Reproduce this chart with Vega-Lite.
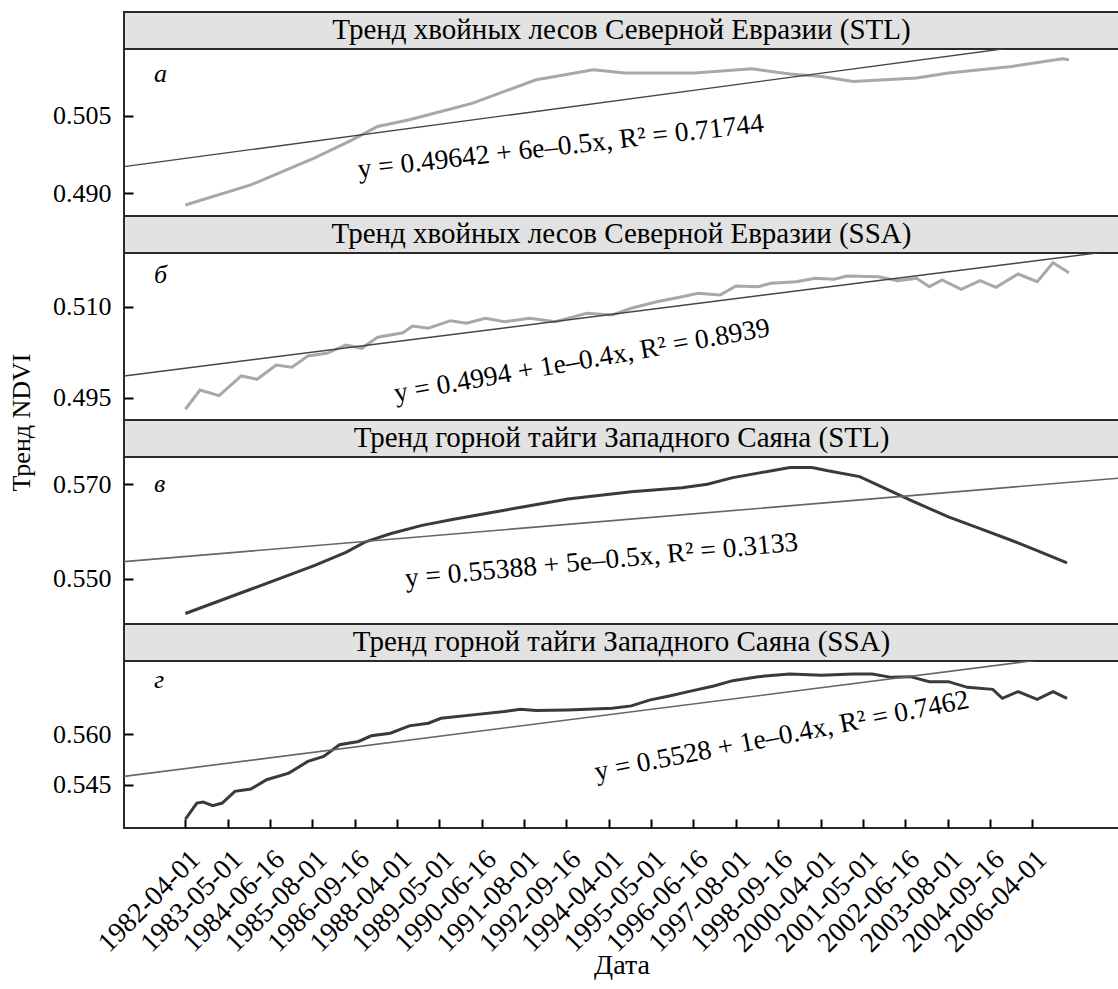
{
  "$schema": "https://vega.github.io/schema/vega-lite/v6.json",
  "padding": {"left": 7, "top": 11, "right": 0, "bottom": 5},
  "background": "white",
  "spacing": 0,
  "bounds": "flush",
  "resolve": {"scale": {"x": "independent", "y": "independent"}},
  "config": {
    "view": {"stroke": "#2a2a2a", "strokeWidth": 2},
    "axis": {
      "labelFont": "Liberation Serif", "labelFontSize": 26, "labelColor": "black",
      "titleFont": "Liberation Serif", "titleFontSize": 26, "titleColor": "black", "titleFontWeight": "normal",
      "tickColor": "black", "tickWidth": 2, "tickSize": -9, "domain": false, "grid": false
    },
    "axisY": {"labelPadding": 22},
    "axisX": {"labelPadding": 26, "labelFontSize": 28, "titleFontSize": 28},
    "text": {"font": "Liberation Serif", "color": "black"}
  },
  "datasets": {
    "p1": [{"t":0,"v":0.48778},{"t":1.544,"v":0.49164},{"t":3.042,"v":0.49678},{"t":3.94,"v":0.50032},{"t":4.54,"v":0.50288},{"t":5.289,"v":0.50417},{"t":6.037,"v":0.50577},{"t":6.786,"v":0.50739},{"t":7.535,"v":0.50963},{"t":8.284,"v":0.51188},{"t":8.734,"v":0.51252},{"t":9.633,"v":0.51381},{"t":10.381,"v":0.51317},{"t":12.03,"v":0.51317},{"t":13.378,"v":0.514},{"t":14.276,"v":0.51298},{"t":15.025,"v":0.51252},{"t":15.774,"v":0.51155},{"t":16.523,"v":0.51188},{"t":17.272,"v":0.51221},{"t":18.021,"v":0.51317},{"t":19.519,"v":0.51445},{"t":20.717,"v":0.51593},{"t":20.867,"v":0.51574}],
    "tr1": [{"t":-1.45,"v":0.49517},{"t":22.05,"v":0.52081}],
    "p2": [{"t":0,"v":0.49309},{"t":0.345,"v":0.49627},{"t":0.795,"v":0.49533},{"t":1.319,"v":0.49858},{"t":1.694,"v":0.49803},{"t":2.143,"v":0.50039},{"t":2.517,"v":0.50001},{"t":2.892,"v":0.50187},{"t":3.341,"v":0.50232},{"t":3.791,"v":0.50369},{"t":4.165,"v":0.50314},{"t":4.54,"v":0.50496},{"t":5.139,"v":0.50571},{"t":5.364,"v":0.50682},{"t":5.738,"v":0.50644},{"t":6.262,"v":0.50769},{"t":6.637,"v":0.50726},{"t":7.086,"v":0.50809},{"t":7.535,"v":0.50753},{"t":8.135,"v":0.50809},{"t":8.734,"v":0.50753},{"t":9.483,"v":0.50891},{"t":10.082,"v":0.50863},{"t":10.531,"v":0.50974},{"t":11.13,"v":0.51082},{"t":11.729,"v":0.51165},{"t":12.104,"v":0.51221},{"t":12.628,"v":0.51193},{"t":13.003,"v":0.51341},{"t":13.527,"v":0.5133},{"t":13.827,"v":0.51386},{"t":14.426,"v":0.51412},{"t":14.875,"v":0.51468},{"t":15.324,"v":0.51452},{"t":15.624,"v":0.51506},{"t":16.373,"v":0.51494},{"t":16.822,"v":0.51429},{"t":17.272,"v":0.51468},{"t":17.571,"v":0.5133},{"t":17.871,"v":0.5144},{"t":18.32,"v":0.51287},{"t":18.77,"v":0.51429},{"t":19.144,"v":0.5132},{"t":19.668,"v":0.51539},{"t":20.118,"v":0.51412},{"t":20.492,"v":0.51725},{"t":20.867,"v":0.5156}],
    "tr2": [{"t":-1.45,"v":0.49858},{"t":22.05,"v":0.51931}],
    "p3": [{"t":0,"v":0.54259},{"t":1.544,"v":0.54773},{"t":3.042,"v":0.55272},{"t":3.791,"v":0.55557},{"t":4.24,"v":0.55771},{"t":4.839,"v":0.55951},{"t":5.588,"v":0.56128},{"t":6.337,"v":0.56257},{"t":7.535,"v":0.5645},{"t":9.033,"v":0.56685},{"t":10.531,"v":0.56842},{"t":11.73,"v":0.56927},{"t":12.329,"v":0.57},{"t":12.928,"v":0.57141},{"t":13.527,"v":0.57236},{"t":14.276,"v":0.57355},{"t":14.8,"v":0.57355},{"t":15.175,"v":0.57285},{"t":15.924,"v":0.57163},{"t":16.523,"v":0.56914},{"t":17.122,"v":0.56664},{"t":18.021,"v":0.56306},{"t":18.77,"v":0.56058},{"t":19.519,"v":0.55807},{"t":20.118,"v":0.55593},{"t":20.822,"v":0.5533}],
    "tr3": [{"t":-1.45,"v":0.55358},{"t":22.05,"v":0.5713}],
    "p4": [{"t":0,"v":0.5348},{"t":0.271,"v":0.53954},{"t":0.42,"v":0.53984},{"t":0.645,"v":0.53877},{"t":0.87,"v":0.53954},{"t":1.169,"v":0.54301},{"t":1.544,"v":0.54369},{"t":1.918,"v":0.54648},{"t":2.443,"v":0.54844},{"t":2.892,"v":0.55191},{"t":3.266,"v":0.55339},{"t":3.641,"v":0.55686},{"t":4.09,"v":0.55784},{"t":4.39,"v":0.55953},{"t":4.839,"v":0.5603},{"t":5.289,"v":0.56249},{"t":5.738,"v":0.56326},{"t":6.037,"v":0.56474},{"t":6.786,"v":0.56575},{"t":7.535,"v":0.56673},{"t":7.91,"v":0.56741},{"t":8.284,"v":0.56703},{"t":9.033,"v":0.56723},{"t":10.082,"v":0.56771},{"t":10.531,"v":0.56842},{"t":10.98,"v":0.5702},{"t":11.43,"v":0.57138},{"t":11.879,"v":0.57266},{"t":12.478,"v":0.57435},{"t":12.928,"v":0.57592},{"t":13.527,"v":0.57711},{"t":14.276,"v":0.57791},{"t":15.025,"v":0.57749},{"t":15.774,"v":0.57791},{"t":16.223,"v":0.57791},{"t":16.673,"v":0.5769},{"t":17.122,"v":0.57711},{"t":17.571,"v":0.57562},{"t":18.021,"v":0.57562},{"t":18.47,"v":0.57393},{"t":19.069,"v":0.57334},{"t":19.294,"v":0.57067},{"t":19.668,"v":0.57266},{"t":20.118,"v":0.57038},{"t":20.492,"v":0.57266},{"t":20.822,"v":0.57067}],
    "tr4": [{"t":-1.45,"v":0.54746},{"t":22.05,"v":0.5851}]
  },
  "vconcat": [
    {
      "width": 995, "height": 37,
      "view": {"fill": "#e2e2e2", "stroke": "#2a2a2a", "strokeWidth": 2},
      "data": {"values": [{"title": "Тренд хвойных лесов Северной Евразии (STL)"}]},
      "mark": {"type": "text", "fontSize": 29, "baseline": "middle", "dy": -1},
      "encoding": {"text": {"field": "title"}}
    },
    {
      "width": 995, "height": 167,
      "encoding": {
        "x": {"field": "t", "type": "quantitative", "scale": {"domain": [-1.45, 22.05], "nice": false, "zero": false}, "axis": null},
        "y": {"field": "v", "type": "quantitative", "scale": {"domain": [0.48566, 0.5178], "nice": false, "zero": false}, "axis": {"values": [0.49, 0.505], "format": ".3f", "title": null}}
      },
      "layer": [
        {"data": {"name": "p1"}, "mark": {"type": "line", "color": "#a8a8a8", "strokeWidth": 3}},
        {"data": {"name": "tr1"}, "mark": {"type": "line", "color": "#444444", "strokeWidth": 1.4, "clip": true}},
        {"data": {"values": [{"t": -0.744, "v": 0.5115, "txt": "а"}]}, "mark": {"type": "text", "fontSize": 26, "fontStyle": "italic", "align": "left", "baseline": "alphabetic"}, "encoding": {"text": {"field": "txt"}}},
        {"data": {"values": [{"t": 4.096, "v": 0.49299, "txt": "y = 0.49642 + 6e–0.5x, R² = 0.71744"}]}, "mark": {"type": "text", "fontSize": 27.5, "angle": -6.5, "align": "left", "baseline": "alphabetic"}, "encoding": {"text": {"field": "txt"}}}
      ]
    },
    {
      "width": 995, "height": 37,
      "view": {"fill": "#e2e2e2", "stroke": "#2a2a2a", "strokeWidth": 2},
      "data": {"values": [{"title": "Тренд хвойных лесов Северной Евразии (SSA)"}]},
      "mark": {"type": "text", "fontSize": 29, "baseline": "middle", "dy": -1},
      "encoding": {"text": {"field": "title"}}
    },
    {
      "width": 995, "height": 167,
      "encoding": {
        "x": {"field": "t", "type": "quantitative", "scale": {"domain": [-1.45, 22.05], "nice": false, "zero": false}, "axis": null},
        "y": {"field": "v", "type": "quantitative", "scale": {"domain": [0.49132, 0.51885], "nice": false, "zero": false}, "axis": {"values": [0.495, 0.51], "format": ".3f", "title": "Тренд NDVI", "titleX": -103, "titleY": 169, "titleAngle": -90, "titleAlign": "center", "titleBaseline": "middle"}}
      },
      "layer": [
        {"data": {"name": "p2"}, "mark": {"type": "line", "color": "#a8a8a8", "strokeWidth": 3}},
        {"data": {"name": "tr2"}, "mark": {"type": "line", "color": "#444444", "strokeWidth": 1.4, "clip": true}},
        {"data": {"values": [{"t": -0.744, "v": 0.51396, "txt": "б"}]}, "mark": {"type": "text", "fontSize": 26, "fontStyle": "italic", "align": "left", "baseline": "alphabetic"}, "encoding": {"text": {"field": "txt"}}},
        {"data": {"values": [{"t": 4.969, "v": 0.49429, "txt": "y = 0.4994 + 1e–0.4x, R² = 0.8939"}]}, "mark": {"type": "text", "fontSize": 27.5, "angle": -10, "align": "left", "baseline": "alphabetic"}, "encoding": {"text": {"field": "txt"}}}
      ]
    },
    {
      "width": 995, "height": 37,
      "view": {"fill": "#e2e2e2", "stroke": "#2a2a2a", "strokeWidth": 2},
      "data": {"values": [{"title": "Тренд горной тайги Западного Саяна (STL)"}]},
      "mark": {"type": "text", "fontSize": 29, "baseline": "middle", "dy": -1},
      "encoding": {"text": {"field": "title"}}
    },
    {
      "width": 995, "height": 167,
      "encoding": {
        "x": {"field": "t", "type": "quantitative", "scale": {"domain": [-1.45, 22.05], "nice": false, "zero": false}, "axis": null},
        "y": {"field": "v", "type": "quantitative", "scale": {"domain": [0.54036, 0.57578], "nice": false, "zero": false}, "axis": {"values": [0.55, 0.57], "format": ".3f", "title": null}}
      },
      "layer": [
        {"data": {"name": "p3"}, "mark": {"type": "line", "color": "#3a3a3a", "strokeWidth": 3}},
        {"data": {"name": "tr3"}, "mark": {"type": "line", "color": "#666666", "strokeWidth": 1.6, "clip": true}},
        {"data": {"values": [{"t": -0.744, "v": 0.56829, "txt": "в"}]}, "mark": {"type": "text", "fontSize": 26, "fontStyle": "italic", "align": "left", "baseline": "alphabetic"}, "encoding": {"text": {"field": "txt"}}},
        {"data": {"values": [{"t": 5.205, "v": 0.54822, "txt": "y = 0.55388 + 5e–0.5x, R² = 0.3133"}]}, "mark": {"type": "text", "fontSize": 27.5, "angle": -5.3, "align": "left", "baseline": "alphabetic"}, "encoding": {"text": {"field": "txt"}}}
      ]
    },
    {
      "width": 995, "height": 37,
      "view": {"fill": "#e2e2e2", "stroke": "#2a2a2a", "strokeWidth": 2},
      "data": {"values": [{"title": "Тренд горной тайги Западного Саяна (SSA)"}]},
      "mark": {"type": "text", "fontSize": 29, "baseline": "middle", "dy": -1},
      "encoding": {"text": {"field": "title"}}
    },
    {
      "width": 995, "height": 167,
      "encoding": {
        "x": {"field": "t", "type": "quantitative", "scale": {"domain": [-1.45, 22.05], "nice": false, "zero": false},
          "axis": {"values": [0,1,2,3,4,5,6,7,8,9,10,11,12,13,14,15,16,17,18,19,20],
            "labelExpr": "['1982-04-01','1983-05-01','1984-06-16','1985-08-01','1986-09-16','1988-04-01','1989-05-01','1990-06-16','1991-08-01','1992-09-16','1994-04-01','1995-05-01','1996-06-16','1997-08-01','1998-09-16','2000-04-01','2001-05-01','2002-06-16','2003-08-01','2004-09-16','2006-04-01'][datum.value]",
            "labelAngle": -45, "labelAlign": "right", "labelBaseline": "top", "labelOverlap": false, "labelBound": false, "labelFlush": false,
            "title": "Дата", "titleY": 137, "titleBaseline": "middle"}},
        "y": {"field": "v", "type": "quantitative", "scale": {"domain": [0.53213, 0.58176], "nice": false, "zero": false}, "axis": {"values": [0.545, 0.56], "format": ".3f", "title": null}}
      },
      "layer": [
        {"data": {"name": "p4"}, "mark": {"type": "line", "color": "#3a3a3a", "strokeWidth": 3}},
        {"data": {"name": "tr4"}, "mark": {"type": "line", "color": "#666666", "strokeWidth": 1.6, "clip": true}},
        {"data": {"values": [{"t": -0.744, "v": 0.57364, "txt": "г"}]}, "mark": {"type": "text", "fontSize": 26, "fontStyle": "italic", "align": "left", "baseline": "alphabetic"}, "encoding": {"text": {"field": "txt"}}},
        {"data": {"values": [{"t": 9.707, "v": 0.54627, "txt": "y = 0.5528 + 1e–0.4x, R² = 0.7462"}]}, "mark": {"type": "text", "fontSize": 27.5, "angle": -11, "align": "left", "baseline": "alphabetic"}, "encoding": {"text": {"field": "txt"}}}
      ]
    }
  ]
}
